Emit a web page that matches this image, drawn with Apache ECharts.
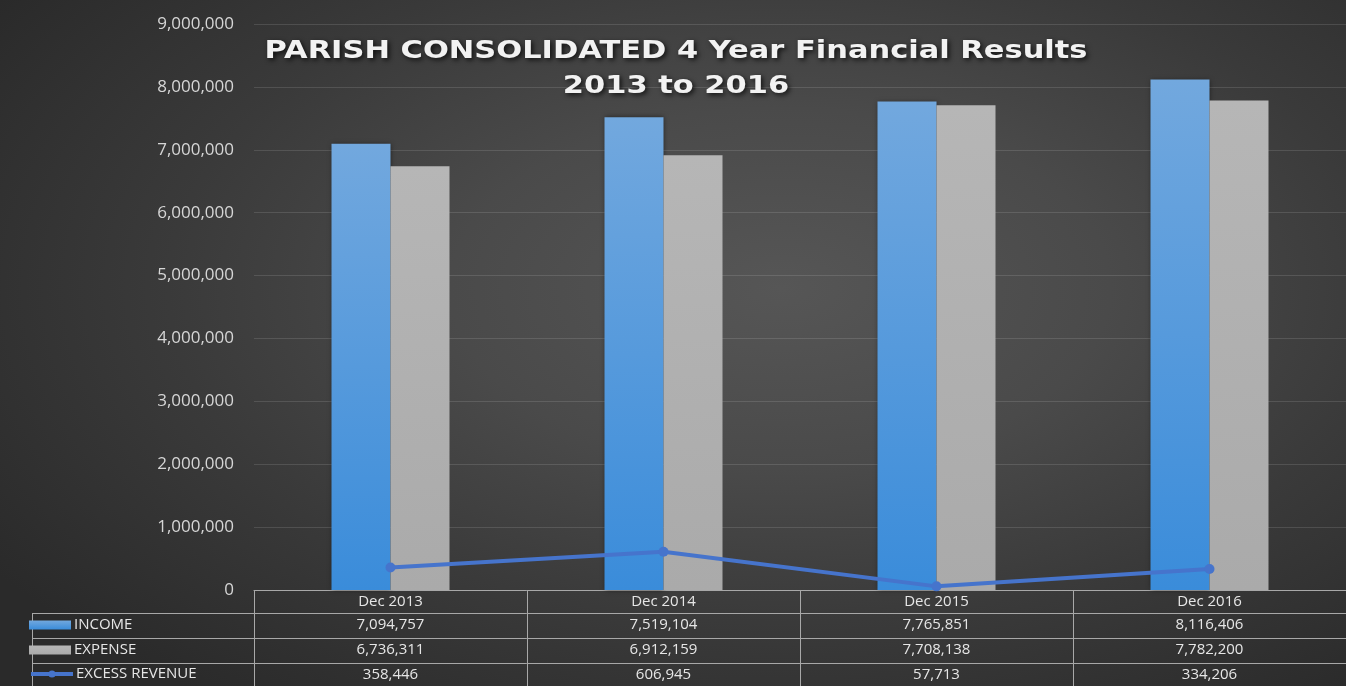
<!DOCTYPE html>
<html>
<head>
<meta charset="utf-8">
<script src="https://cdn.jsdelivr.net/npm/echarts@6/dist/echarts.min.js"></script>
<style>
html,body{margin:0;padding:0;background:#2a2a2a;}
#c{width:1346px;height:686px;background:radial-gradient(ellipse 70% 75% at 58% 42%, #565656 0%, #4a4a4a 35%, #3a3a3a 65%, #2a2a2a 100%);}
</style>
</head>
<body>
<div id="c"></div>
<script>
// ---- data ----
const categories = ['Dec 2013', 'Dec 2014', 'Dec 2015', 'Dec 2016'];
const income = [7094757, 7519104, 7765851, 8116406];
const expense = [6736311, 6912159, 7708138, 7782200];
const excessRevenue = [358446, 606945, 57713, 334206];
const seriesNames = ['INCOME', 'EXPENSE', 'EXCESS REVENUE'];
const titleLines = ['PARISH CONSOLIDATED 4 Year Financial Results', '2013 to 2016'];
const yMin = 0, yMax = 9000000, yStep = 1000000;

// ---- layout / style ----
const FONT = '"Open Sans", "Noto Sans", sans-serif';
const TABLE_LINE = '#a8a8a8';
const TEXT = '#e6e6e6';
const gridLeft = 254, gridTop = 24, gridBottom = 96;
const rowOffsets = [23, 48, 73];
const rowCenters = [625, 650, 674];
const titleCenterX = 676, titleYs = [52, 87];

const fmt = v => v.toLocaleString('en-US');

const chart = echarts.init(document.getElementById('c'), null, {renderer: 'canvas'});

const tableRows = [income, expense, excessRevenue];
const rowAxes = tableRows.map((arr, k) => ({
  type: 'category',
  gridIndex: 0,
  position: 'bottom',
  offset: rowOffsets[k],
  data: categories,
  axisLine: {show: true, lineStyle: {color: TABLE_LINE, width: 1}},
  axisTick: {show: false},
  axisLabel: {
    interval: 0, margin: 4, color: TEXT, fontSize: 15, fontFamily: FONT,
    formatter: (v, i) => fmt(arr[i])
  },
  splitLine: {show: false}
}));

const legendIcons = ['rect', 'rect', null];
const legends = seriesNames.map((n, k) => {
  const item = {name: n};
  if (legendIcons[k]) item.icon = legendIcons[k];
  return {
    data: [item],
    left: 29,
    top: rowCenters[k] - 10,
    padding: 0,
    itemWidth: 42,
    itemHeight: 9,
    itemGap: 4,
    selectedMode: false,
    lineStyle: {width: 4},
    textStyle: {color: TEXT, fontSize: 15, fontFamily: FONT, lineHeight: 20, padding: [0, 0, 0, -2]}
  };
});

const titleGraphics = titleLines.map((t, k) => ({
  type: 'text',
  x: titleCenterX,
  y: titleYs[k],
  scaleX: 1.27,
  silent: true,
  z: 10,
  style: {
    text: t,
    font: 'bold 24px "DejaVu Sans", sans-serif',
    fill: '#f2f2f2',
    align: 'center',
    verticalAlign: 'middle',
    textShadowColor: 'rgba(0,0,0,0.75)',
    textShadowBlur: 5,
    textShadowOffsetX: 2,
    textShadowOffsetY: 2
  }
}));

const tableFrame = [613.5, 638.5, 663.5].map(y => ({
  type: 'line', silent: true,
  shape: {x1: 32, y1: y, x2: gridLeft, y2: y},
  style: {stroke: TABLE_LINE, lineWidth: 1}
})).concat([{
  type: 'line', silent: true,
  shape: {x1: 32.5, y1: 613, x2: 32.5, y2: 686},
  style: {stroke: TABLE_LINE, lineWidth: 1}
}]);

const option = {
  backgroundColor: 'transparent',
  animation: false,
  legend: legends,
  grid: {left: gridLeft, right: 0, top: gridTop, bottom: gridBottom, containLabel: false},
  xAxis: [{
    type: 'category',
    gridIndex: 0,
    position: 'bottom',
    data: categories,
    axisLine: {show: true, lineStyle: {color: TABLE_LINE, width: 1}},
    axisTick: {show: true, interval: 0, length: 96, lineStyle: {color: TABLE_LINE, width: 1}},
    axisLabel: {interval: 0, margin: 4, color: TEXT, fontSize: 15, fontFamily: FONT},
    splitLine: {show: false}
  }].concat(rowAxes),
  yAxis: {
    type: 'value',
    min: yMin, max: yMax, interval: yStep,
    axisLine: {show: false},
    axisTick: {show: false},
    axisLabel: {color: '#d6d6d6', fontSize: 17, fontFamily: FONT, margin: 20, formatter: v => fmt(v)},
    splitLine: {lineStyle: {color: 'rgba(255,255,255,0.12)', width: 1}}
  },
  series: [
    {
      name: seriesNames[0], type: 'bar', xAxisIndex: 0, data: income,
      barWidth: 59, barGap: '0%',
      itemStyle: {
        color: new echarts.graphic.LinearGradient(0, 0, 0, 1, [
          {offset: 0, color: '#72a8de'}, {offset: 1, color: '#3a8cda'}
        ]),
        shadowColor: 'rgba(0,0,0,0.5)', shadowBlur: 5
      }
    },
    {
      name: seriesNames[1], type: 'bar', xAxisIndex: 0, data: expense,
      barWidth: 59, barGap: '0%',
      itemStyle: {
        color: new echarts.graphic.LinearGradient(0, 0, 0, 1, [
          {offset: 0, color: '#b6b6b6'}, {offset: 1, color: '#aaaaaa'}
        ])
      }
    },
    {
      name: seriesNames[2], type: 'line', xAxisIndex: 0, data: excessRevenue,
      symbol: 'circle', symbolSize: 10,
      lineStyle: {color: '#4674cc', width: 4},
      itemStyle: {color: '#4674cc'},
      z: 5
    }
  ],
  graphic: titleGraphics.concat(tableFrame)
};
chart.setOption(option);
</script>
</body>
</html>
